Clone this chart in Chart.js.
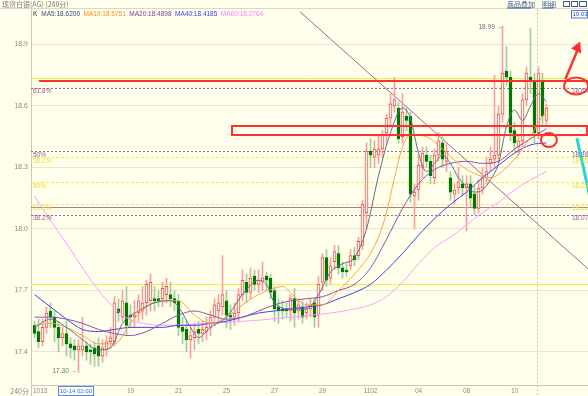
<!DOCTYPE html>
<html><head><meta charset="utf-8">
<script src="https://cdn.jsdelivr.net/npm/chart.js@4.4.1/dist/chart.umd.min.js"></script>
<style>html,body{margin:0;padding:0;background:#ffffec;overflow:hidden}</style>
</head><body>
<canvas id="c" width="588" height="396"></canvas>
<script>
// ---- data ----
const opens  = [17.53,17.50,17.45,17.52,17.60,17.57,17.52,17.47,17.49,17.44,17.43,17.41,17.41,17.43,17.41,17.42,17.43,17.38,17.41,17.45,
17.45,17.61,17.57,17.64,17.58,17.57,17.59,17.60,17.64,17.65,17.66,17.66,17.66,17.68,17.68,17.66,17.65,17.52,17.51,17.46,
17.47,17.51,17.49,17.50,17.52,17.57,17.60,17.62,17.65,17.58,17.57,17.59,17.68,17.74,17.69,17.77,17.73,17.74,17.77,17.76,
17.70,17.62,17.61,17.61,17.60,17.66,17.60,17.62,17.59,17.61,17.64,17.58,17.74,17.86,17.76,17.84,17.88,17.81,17.80,17.82,
17.87,17.87,17.92,18.08,18.38,18.35,18.36,18.39,18.47,18.54,18.60,18.59,18.45,18.55,18.55,18.16,18.19,18.30,18.36,18.33,
18.25,18.36,18.42,18.33,18.25,18.17,18.20,18.22,18.20,18.22,18.17,18.10,18.20,18.25,18.32,18.34,18.36,18.56,18.77,18.74,
18.48,18.40,18.43,18.63,18.74,18.72,18.47,18.72,18.53];
const highs  = [17.55,17.56,17.56,17.62,17.64,17.60,17.55,17.52,17.55,17.47,17.46,17.46,17.57,17.45,17.44,17.45,17.47,17.46,17.48,17.52,
17.67,17.66,17.70,17.72,17.63,17.65,17.68,17.72,17.75,17.78,17.72,17.70,17.74,17.76,17.74,17.70,17.68,17.57,17.55,17.52,
17.54,17.55,17.55,17.57,17.60,17.66,17.68,17.87,17.70,17.63,17.64,17.71,17.80,17.78,17.81,17.80,17.80,17.84,17.79,17.78,
17.72,17.66,17.65,17.64,17.68,17.71,17.66,17.65,17.64,17.66,17.66,17.77,17.88,17.90,17.86,17.92,17.92,17.84,17.83,17.90,
17.91,17.96,18.14,18.42,18.44,18.43,18.46,18.48,18.56,18.66,18.74,18.62,18.66,18.59,18.57,18.22,18.36,18.40,18.40,18.36,
18.39,18.47,18.45,18.42,18.28,18.22,18.30,18.26,18.26,18.26,18.21,18.24,18.30,18.35,18.40,18.75,18.60,18.99,18.89,18.77,
18.52,18.46,18.66,18.79,18.98,18.76,18.79,18.76,18.61];
const lows   = [17.47,17.42,17.43,17.49,17.52,17.45,17.40,17.43,17.38,17.37,17.36,17.30,17.38,17.36,17.34,17.33,17.33,17.35,17.38,17.42,
17.43,17.55,17.55,17.48,17.52,17.52,17.55,17.56,17.58,17.60,17.60,17.62,17.62,17.64,17.62,17.60,17.48,17.44,17.40,17.37,
17.41,17.44,17.45,17.46,17.48,17.53,17.55,17.58,17.52,17.51,17.53,17.55,17.65,17.64,17.66,17.70,17.69,17.70,17.70,17.66,
17.55,17.54,17.56,17.57,17.55,17.52,17.56,17.54,17.56,17.57,17.52,17.52,17.70,17.72,17.73,17.80,17.78,17.76,17.77,17.80,
17.82,17.85,17.90,18.00,18.30,18.30,18.32,18.35,18.42,18.50,18.57,18.42,18.42,18.48,18.13,18.00,18.14,18.25,18.30,18.22,
18.22,18.33,18.30,18.28,18.14,18.12,18.17,18.16,17.99,18.11,18.07,18.08,18.17,18.22,18.28,18.30,18.33,18.52,18.70,18.43,
18.38,18.36,18.40,18.60,18.66,18.42,18.44,18.50,18.51];
const closes = [17.49,17.45,17.52,17.59,17.57,17.52,17.47,17.49,17.44,17.42,17.41,17.43,17.43,17.40,17.40,17.39,17.38,17.42,17.45,17.47,
17.64,17.59,17.65,17.53,17.57,17.58,17.65,17.64,17.73,17.74,17.65,17.65,17.71,17.72,17.66,17.64,17.52,17.50,17.46,17.48,
17.50,17.49,17.51,17.52,17.57,17.63,17.64,17.68,17.58,17.57,17.59,17.68,17.75,17.69,17.76,17.73,17.75,17.76,17.75,17.69,
17.61,17.60,17.60,17.60,17.66,17.59,17.63,17.57,17.61,17.63,17.57,17.73,17.86,17.75,17.82,17.89,17.81,17.79,17.79,17.87,
17.85,17.94,18.12,18.38,18.36,18.39,18.39,18.46,18.54,18.61,18.63,18.44,18.57,18.53,18.17,18.18,18.31,18.37,18.33,18.26,
18.36,18.43,18.34,18.38,18.18,18.19,18.23,18.20,18.22,18.15,18.10,18.20,18.25,18.28,18.34,18.36,18.56,18.76,18.74,18.47,
18.42,18.43,18.63,18.76,18.72,18.47,18.76,18.55,18.59];

const xTickIdx    = [0,24,36,48,60,72,84,96,108,120];
const xTickLabels = ['1013','19','21','25','27','29','1102','04','08','10'];
const yTicks      = [17.4,17.7,18.0,18.3,18.6,18.9];

const ma5  = [[0,17.52],[4,17.56],[8,17.52],[12,17.46],[16,17.41],[19,17.42],[22,17.54],[26,17.60],[30,17.64],[34,17.65],[36,17.62],[39,17.52],[41,17.47],[44,17.52],[48,17.57],[52,17.68],[56,17.75],[58,17.73],[60,17.64],[64,17.61],[68,17.61],[71,17.68],[74,17.79],[77,17.83],[80,17.86],[83,18.0],[86,18.26],[89,18.47],[92,18.59],[94,18.54],[96,18.37],[98,18.28],[100,18.32],[102,18.36],[104,18.32],[106,18.25],[108,18.21],[110,18.18],[112,18.19],[114,18.24],[116,18.32],[118,18.50],[120,18.58],[122,18.53],[124,18.60],[126,18.66],[128,18.62]];
const ma10 = [[0,17.53],[4,17.54],[8,17.52],[12,17.48],[16,17.44],[20,17.44],[24,17.54],[28,17.62],[32,17.65],[36,17.65],[40,17.58],[44,17.54],[48,17.57],[52,17.63],[56,17.68],[60,17.71],[62,17.72],[64,17.69],[66,17.65],[68,17.63],[72,17.63],[76,17.70],[80,17.78],[84,17.88],[86,17.96],[88,18.08],[90,18.25],[92,18.40],[94,18.46],[98,18.45],[102,18.39],[106,18.32],[110,18.27],[114,18.25],[118,18.30],[122,18.39],[124,18.45],[126,18.52],[128,18.575]];
const ma20 = [[0,17.57],[4,17.57],[8,17.56],[12,17.54],[16,17.51],[20,17.49],[24,17.48],[28,17.50],[32,17.54],[36,17.58],[40,17.60],[44,17.58],[48,17.56],[52,17.57],[56,17.60],[60,17.63],[64,17.65],[68,17.66],[72,17.67],[76,17.70],[80,17.73],[84,17.81],[88,17.95],[92,18.10],[96,18.22],[100,18.29],[104,18.32],[108,18.33],[112,18.32],[116,18.33],[120,18.39],[124,18.44],[128,18.49]];
const ma40 = [[0,17.68],[4,17.62],[8,17.56],[12,17.51],[16,17.50],[20,17.51],[24,17.52],[28,17.52],[32,17.52],[36,17.53],[40,17.53],[44,17.54],[48,17.55],[52,17.57],[56,17.59],[60,17.60],[64,17.61],[68,17.62],[72,17.63],[76,17.66],[80,17.69],[84,17.73],[88,17.80],[92,17.88],[96,17.97],[100,18.05],[104,18.12],[108,18.18],[112,18.25],[116,18.31],[120,18.37],[124,18.41],[128,18.42]];
const ma60 = [[0,18.16],[4,18.04],[8,17.93],[12,17.81],[16,17.70],[20,17.615],[24,17.556],[28,17.537],[32,17.53],[40,17.535],[48,17.545],[56,17.555],[64,17.57],[72,17.585],[80,17.61],[84,17.63],[88,17.67],[92,17.74],[96,17.83],[100,17.91],[104,17.96],[108,18.02],[112,18.08],[116,18.13],[120,18.19],[124,18.24],[128,18.28]];

const legendItems = [['K','#333'],['MA5:18.6200','#3c4c7c'],['MA10:18.5751','#ff8c1a'],['MA20:18.4898','#7a3c9c'],['MA40:18.4185','#3c3cf0'],['MA60:18.2764','#ff80ff']];
const fibPurple = [[18.69,'61.8%','18.69'],[18.38,'50%','18.38'],[18.07,'38.2%','18.07']];
const fibYellow = [[18.35,'38.2%','18.35'],[18.23,'50%','18.23'],[18.12,'61.8%','18.11']];

// ---- chart ----
const BG = '#ffffec';
const up = closes.map((c,i)=>c>=opens[i]);
const bodies = closes.map((c,i)=>({x:i, y:[opens[i], c]}));
const wicks  = closes.map((c,i)=>({x:i, y:[lows[i], highs[i]]}));
const pts = a => a.map(([x,y])=>({x,y}));
const lineDs = (label,data,color)=>({type:'line',label,data:pts(data),borderColor:color,borderWidth:1,pointRadius:0,cubicInterpolationMode:'monotone',order:-1,spanGaps:true});
const SMALL = '6.5px "Liberation Sans", Arial, sans-serif';

const overlay = {
  id:'overlay',
  beforeDraw(chart){
    const c=chart.ctx; c.save(); c.fillStyle=BG; c.fillRect(0,0,chart.width,chart.height); c.restore();
  },
  beforeDatasetsDraw(chart){
    const c=chart.ctx, xs=chart.scales.x, ys=chart.scales.y, a=chart.chartArea;
    const Y=v=>Math.round(ys.getPixelForValue(v))+0.5;
    c.save();
    c.beginPath(); c.rect(a.left,a.top,a.right-a.left,a.bottom-a.top); c.clip();
    c.lineWidth=1;
    c.strokeStyle='#f2f23a';
    [18.735,17.73].forEach(v=>{c.beginPath();c.moveTo(a.left,Y(v));c.lineTo(a.right,Y(v));c.stroke();});
    c.strokeStyle='#a87aa8';
    c.beginPath();c.moveTo(a.left,Y(18.105));c.lineTo(a.right,Y(18.105));c.stroke();
    c.setLineDash([3,2]); c.strokeStyle='#f0ee50';
    fibYellow.forEach(f=>{c.beginPath();c.moveTo(a.left,Y(f[0]));c.lineTo(a.right,Y(f[0]));c.stroke();});
    c.setLineDash([2,2]); c.strokeStyle='#a06a98';
    fibPurple.forEach(f=>{c.beginPath();c.moveTo(a.left,Y(f[0]));c.lineTo(a.right,Y(f[0]));c.stroke();});
    c.setLineDash([2,2]); c.strokeStyle='#c8c8c8';
    const cx=Math.round(xs.getPixelForValue(125.6))+0.5;
    c.beginPath();c.moveTo(cx,a.top);c.lineTo(cx,a.bottom);c.stroke();
    c.setLineDash([]);
    c.strokeStyle='#a5609c';
    c.beginPath();c.moveTo(xs.getPixelForValue(66.4),ys.getPixelForValue(19.059));c.lineTo(xs.getPixelForValue(138.4),ys.getPixelForValue(17.805));c.stroke();
    c.restore();
  },
  afterDatasetsDraw(chart){
    const c=chart.ctx, xs=chart.scales.x, ys=chart.scales.y, a=chart.chartArea;
    const X=v=>xs.getPixelForValue(v), Y=v=>ys.getPixelForValue(v);
    c.save();
    c.beginPath(); c.rect(a.left,a.top,a.right-a.left,a.bottom-a.top); c.clip();
    c.strokeStyle='#ff3030'; c.lineWidth=2;
    c.beginPath();c.moveTo(X(1.1),Math.round(Y(18.72)));c.lineTo(a.right,Math.round(Y(18.72)));c.stroke();
    const rt=Math.round(Y(18.502)), rb=Math.round(Y(18.456));
    c.strokeRect(Math.round(X(49.4)),rt,a.right-1-Math.round(X(49.4)),rb-rt);
    c.beginPath();c.ellipse(X(135.4),Y(18.698),12,8.5,0,0,Math.PI*2);c.stroke();
    c.beginPath();c.ellipse(X(128.6),Y(18.434),8,7,0,0,Math.PI*2);c.stroke();
    // red arrow
    c.lineWidth=2.5;
    c.beginPath();c.moveTo(X(132.7),Y(18.73));c.lineTo(X(135.7),Y(18.87));c.stroke();
    c.fillStyle='#ff3030';
    const tx=X(136.4), ty=Y(18.915);
    c.beginPath();c.moveTo(tx,ty);c.lineTo(tx-9,ty+7);c.lineTo(tx+1,ty+12);c.closePath();c.fill();
    // cyan arrow
    c.strokeStyle='#22d4e0'; c.lineWidth=3;
    c.beginPath();c.moveTo(X(135.6),Y(18.444));c.lineTo(X(138.9),Y(18.151));c.stroke();
    c.restore();
    c.save();
    c.font=SMALL; c.textBaseline='middle'; c.textAlign='left';
    fibPurple.forEach(f=>{c.fillStyle='#9a5a90'; c.fillText(f[1],a.left+2,Y(f[0])+4); c.fillText(f[2],a.right-16,Y(f[0])+4);});
    fibYellow.forEach(f=>{c.fillStyle='#e8e040'; c.fillText(f[1],a.left+2,Y(f[0])+4); c.fillText(f[2],a.right-16,Y(f[0])+4);});
    c.fillStyle='#6a7080';
    c.fillText('18.99 \u2192',X(111),Y(18.985));
    c.fillText('17.30 \u2192',X(4.5),Y(17.30)-1);
    c.restore();
  },
  afterDraw(chart){
    const c=chart.ctx, xs=chart.scales.x, a=chart.chartArea;
    c.save();
    c.fillStyle=BG; c.fillRect(0,0,chart.width,a.top);
    c.strokeStyle='#d8d8c8'; c.lineWidth=1;
    c.beginPath();c.moveTo(0,a.top-0.5);c.lineTo(chart.width,a.top-0.5);c.stroke();
    c.font='7px "Noto Sans CJK SC", sans-serif'; c.textBaseline='middle'; c.fillStyle='#7c7c7c';
    c.fillText('现货白银(AG) (240分)',2,4.5);
    c.fillStyle='#3a5a9a';
    c.fillText('商品叠加',507,4.5); c.fillText('明细',542,4.5);
    c.strokeStyle='#3a5a9a';
    c.beginPath();c.moveTo(507,8);c.lineTo(531,8);c.moveTo(542,8);c.lineTo(553,8);c.stroke();
    c.strokeRect(563.5,1.5,6,5); c.strokeRect(571.5,1.5,6,5); c.strokeRect(579.5,1.5,7,5);
    c.font=SMALL;
    let x=a.left+2;
    legendItems.forEach(([t,col],k)=>{c.fillStyle=col;c.fillText(t,x,14.5);x+=c.measureText(t).width+(k===0?4:3.5);});
    c.fillStyle='#ffffff'; c.fillRect(571,10,17,8);
    c.strokeStyle='#4a7ad0'; c.strokeRect(571.5,10.5,16,7.5);
    c.fillStyle='#2a4aa0'; c.font='6px "Liberation Sans", Arial, sans-serif'; c.fillText('19.03',572.5,14.5);
    c.font=SMALL;
    c.fillStyle='#8a8a8a'; c.textBaseline='middle';
    xTickIdx.forEach((v,k)=>{
      const px=xs.getPixelForValue(v);
      if(k===0){c.textAlign='left';c.fillText(xTickLabels[k],px-1.5,391);}
      else {c.textAlign='center';c.fillText(xTickLabels[k],px,391);}
    });
    c.textAlign='right'; c.font='7px "Noto Sans CJK SC", sans-serif';
    c.fillText('240分',a.left-2,391);
    c.beginPath(); c.strokeStyle='#c8c8c0'; c.moveTo(a.left+0.5,a.bottom); c.lineTo(a.left+0.5,396); c.stroke();
    c.fillStyle='#ffffff'; c.fillRect(58,386,36,10);
    c.strokeStyle='#5a8ae0'; c.strokeRect(58.5,386.5,35,9);
    c.fillStyle='#3a6ad0'; c.textAlign='left'; c.font='6px "Liberation Sans", Arial, sans-serif';
    c.fillText('10-14 02:00',60,391.5);
    c.setLineDash([2,2]); c.strokeStyle='#c8c8c8';
    const cx=Math.round(xs.getPixelForValue(125.6))+0.5;
    c.beginPath();c.moveTo(cx,a.bottom);c.lineTo(cx,396);c.stroke();
    c.restore();
  }
};

new Chart(document.getElementById('c'),{
  type:'bar',
  data:{datasets:[
    lineDs('MA5',ma5,'#5e6f8e'),
    lineDs('MA10',ma10,'#ffa040'),
    lineDs('MA20',ma20,'#8c50ac'),
    lineDs('MA40',ma40,'#4040f0'),
    lineDs('MA60',ma60,'#ff9cff'),
    {type:'bar',label:'body',data:bodies,barThickness:3,grouped:false,order:1,borderSkipped:false,minBarLength:1,
      backgroundColor:up.map(u=>u?BG:'#007800'),borderColor:up.map(u=>u?'#ff4a4a':'#007800'),borderWidth:1},
    {type:'bar',label:'wick',data:wicks,barThickness:1,grouped:false,order:2,borderSkipped:false,
      backgroundColor:up.map(u=>u?'#f8a0a0':'#9ccf9c'),borderWidth:0}
  ]},
  options:{
    responsive:false, animation:false, devicePixelRatio:1,
    layout:{padding:{top:9,left:0,right:0,bottom:0}},
    plugins:{legend:{display:false},tooltip:{enabled:false}},
    scales:{
      x:{type:'linear',min:-0.875,max:138.375,offset:false,
        grid:{display:false,drawTicks:false},
        border:{display:true,color:'#c8c8c0'},
        ticks:{display:false},
        afterFit:s=>{s.height=11;}},
      y:{type:'linear',position:'left',min:17.239,max:19.073,
        afterBuildTicks:s=>{s.ticks=yTicks.map(v=>({value:v}));},
        grid:{color:'#e6e6d6',drawTicks:false},
        border:{display:true,color:'#c8c8c0'},
        ticks:{color:'#8a8a8a',font:{size:7,family:'"Liberation Sans", Arial, sans-serif'},padding:3,callback:v=>v.toFixed(1)},
        afterFit:s=>{s.width=31;}}
    }
  },
  plugins:[overlay]
});
</script>
</body></html>
